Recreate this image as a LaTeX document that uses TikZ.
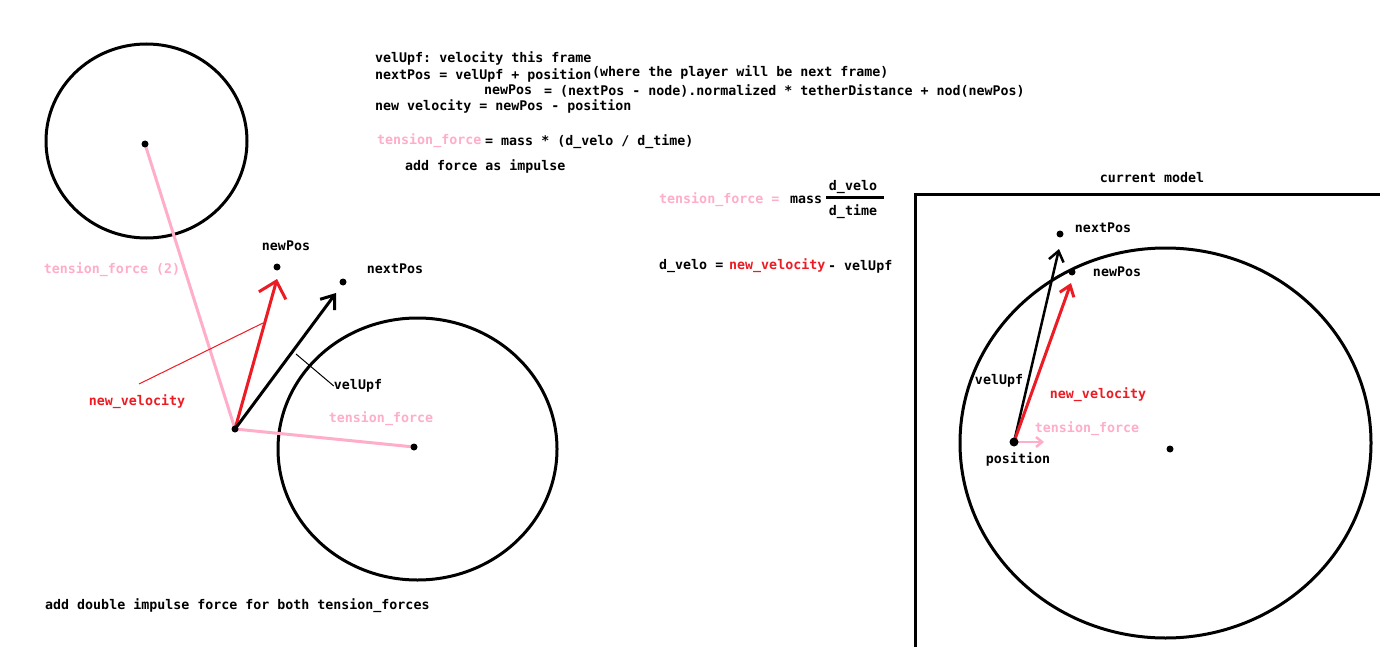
\documentclass[tikz,border=0pt]{standalone}
\usepackage{fontspec}
\setmonofont{DejaVu Sans Mono}
\usetikzlibrary{arrows.meta}
\definecolor{pinkc}{RGB}{255,174,201}
\definecolor{redc}{RGB}{237,28,36}
\begin{document}
\begin{tikzpicture}[x=1pt,y=-1pt,
  txt/.style={font=\ttfamily\bfseries\fontsize{13.3}{15}\selectfont, inner sep=0pt},
  ltxt/.style={txt, anchor=west},
  circ/.style={line width=3pt},
  dot/.style={fill=black},
  pinkline/.style={draw=pinkc, line width=3pt},
  leader/.style={line width=1pt},
  bigarrowR/.style={draw=redc, line width=3pt, -{Straight Barb[length=15pt,width=28pt]}},
  bigarrowK/.style={draw=black, line width=3pt, -{Straight Barb[length=12pt,width=18pt]}},
  smarrowR/.style={draw=redc, line width=3pt, -{Straight Barb[length=10pt,width=15pt]}},
  smarrowK/.style={draw=black, line width=2.5pt, -{Straight Barb[length=10pt,width=15pt]}},
  smarrowP/.style={draw=pinkc, line width=2.5pt, -{Straight Barb[length=6pt,width=10pt]}}
]
\useasboundingbox[fill=white] (0,0) rectangle (1380,647);

% ---------- top text ----------
\node[ltxt] (t1) at (375,58) {velUpf: velocity this frame};
\node[ltxt] (t2) at (375,75) {nextPos = velUpf + position};
\node[ltxt] (t2b) at (592,72) {(where the player will be next frame)};
\node[ltxt] (t3a) at (484,90) {newPos};
\node[ltxt] (t3b) at (544,91) {= (nextPos - node).normalized * tetherDistance + nod(newPos)};
\node[ltxt] (t4) at (375,106) {new velocity = newPos - position};
\node[ltxt, text=pinkc] (t5a) at (377,141) {tension\_force};
\node[ltxt] (t5b) at (485,142) {= mass * (d\_velo / d\_time)};
\node[ltxt] (t6) at (405,166) {add force as impulse};

% ---------- formula ----------
\node[ltxt, text=pinkc] (f1) at (659,200) {tension\_force =};
\node[ltxt] (f2) at (790,200) {mass};
\coordinate (fbl) at (826,197);
\coordinate (fbr) at (884,197);
\draw[line width=3pt] (fbl) -- (fbr);
\node[txt] (f3) at (853,187) {d\_velo};
\node[txt] (f4) at (853,212) {d\_time};
\node[ltxt] (g1) at (659,266) {d\_velo =};
\node[ltxt, text=redc] (g2) at (729,266) {new\_velocity};
\node[ltxt] (g3) at (828,267) {- velUpf};

% ---------- left diagram ----------
\draw[circ] (146.5,141) ellipse [x radius=100.5pt, y radius=97pt];
\draw[circ] (417.5,449) ellipse [x radius=139.5pt, y radius=131pt];
\coordinate (c1) at (145,144);
\coordinate (c2) at (414,447);
\coordinate (p) at (235,429);
\coordinate (np) at (277,267);
\coordinate (nx) at (343,282);
\coordinate (tipR) at (277,279);
\coordinate (tipK) at (336,293);
\draw[pinkline] (c1) -- (p);
\draw[pinkline] (p) -- (c2);
\draw[bigarrowR] (p) -- (tipR);
\draw[bigarrowK] (p) -- (tipK);
\fill[dot] (c1) circle (3.5pt);
\fill[dot] (c2) circle (3.5pt);
\fill[dot] (p) circle (3.5pt);
\fill[dot] (np) circle (3.5pt);
\fill[dot] (nx) circle (3.5pt);
\node[txt] (lnp) at (286,246) {newPos};
\node[txt] (lnx) at (395,269) {nextPos};
\node[txt, text=pinkc] (ltf2) at (112,270) {tension\_force (2)};
\node[txt, text=pinkc] (ltf) at (381,419) {tension\_force};
\node[txt] (lvu) at (358,386) {velUpf};
\node[txt, text=redc] (lnv) at (137,402) {new\_velocity};
\coordinate (rl1) at (139,384);
\coordinate (rl2) at (263,323);
\draw[leader, redc] (rl1) -- (rl2);
\coordinate (kl1) at (296,354);
\draw[leader] (kl1) -- (lvu.west);
\node[ltxt] (bot) at (45,606) {add double impulse force for both tension\_forces};

% ---------- right diagram ----------
\node[txt] (cm) at (1152,178) {current model};
\coordinate (bx1) at (915,647);
\coordinate (bx2) at (915,194);
\coordinate (bx3) at (1380,194);
\draw[line width=3pt] (bx1) -- (bx2) -- (bx3);
\draw[circ] (1165.5,443) ellipse [x radius=205.5pt, y radius=195pt];
\coordinate (rp) at (1014,442);
\coordinate (rc) at (1170,449);
\coordinate (rnx) at (1060,234);
\coordinate (rnp) at (1072,272);
\coordinate (rtipK) at (1059,249);
\coordinate (rtipR) at (1071,283);
\coordinate (rtipP) at (1044,442);
\draw[smarrowK] (rp) -- (rtipK);
\draw[smarrowR] (rp) -- (rtipR);
\draw[smarrowP] (rp) -- (rtipP);
\fill[dot] (rp) circle (4.5pt);
\fill[dot] (rc) circle (3.5pt);
\fill[dot] (rnx) circle (3.5pt);
\fill[dot] (rnp) circle (3.5pt);
\node[txt] (rlnx) at (1103,228) {nextPos};
\node[txt] (rlnp) at (1117,272) {newPos};
\node[txt] (rlvu) at (999,381) {velUpf};
\node[txt, text=redc] (rlnv) at (1098,395) {new\_velocity};
\node[txt, text=pinkc] (rltf) at (1087,429) {tension\_force};
\node[txt] (rlpos) at (1018,459) {position};
\end{tikzpicture}
\end{document}
